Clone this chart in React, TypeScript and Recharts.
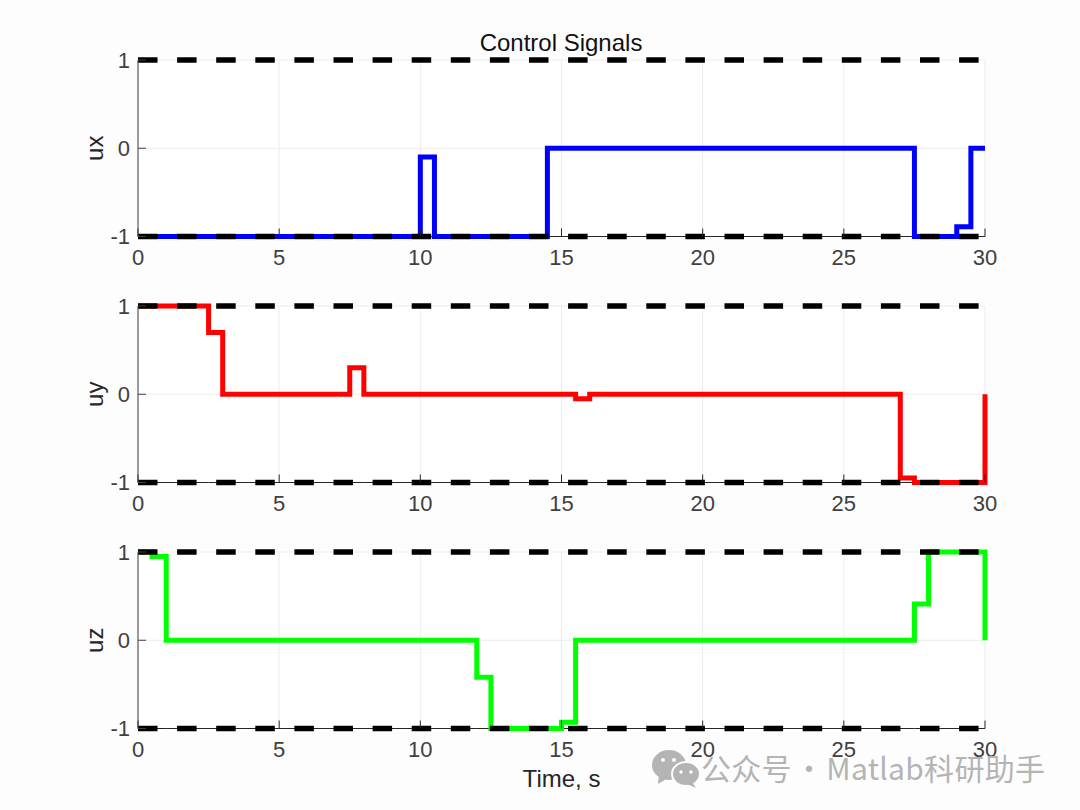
import { CartesianGrid, Line, LineChart, XAxis, YAxis } from 'recharts';

const xTicks = [0, 5, 10, 15, 20, 25, 30];
const yTicks = [-1, 0, 1];

// change points of the piecewise constant signals
const uxTime = [0, 10, 10.5, 14.5, 27.5, 29, 29.5, 30];
const uxValue = [-1, -0.1, -1, 0, -1, -0.89, 0, 0];

const uyTime = [0, 2.5, 3, 7.5, 8, 15.5, 16, 27, 27.5, 30];
const uyValue = [1, 0.7, 0, 0.3, 0, -0.05, 0, -0.95, -1, 0];

const uzTime = [0, 0.5, 1, 12, 12.5, 15, 15.5, 27.5, 28, 30];
const uzValue = [1, 0.95, 0, -0.42, -1, -0.93, 0, 0.41, 1, 0];

const FONT = '"Liberation Sans", Arial, sans-serif';
const PLOT_H = 176.5;

function Panel({ top, name, color, time, value, xlabel }: { top: number; name: string; color: string; time: number[]; value: number[]; xlabel?: string }) {
  const data = time.map((t, i) => ({ t, u: value[i], upper: 1, lower: -1 }));
  return (
    <div style={{ position: 'absolute', left: 0, top: top - 20 }}>
      <LineChart width={1080} height={PLOT_H + 20 + 70} data={data} margin={{ top: 20, right: 95, bottom: 0, left: 0 }}>
        <CartesianGrid stroke="#ececec" fill="#ffffff" verticalValues={xTicks} horizontalValues={yTicks} />
        <XAxis
          dataKey="t"
          type="number"
          domain={[0, 30]}
          ticks={xTicks}
          interval={0}
          height={70}
          axisLine={false}
          tickSize={-8}
          tickMargin={21}
          stroke="#262626"
          tick={{ fill: '#404040', fontSize: 22, fontFamily: FONT }}
          label={xlabel ? { value: xlabel, position: 'insideBottom', offset: 12, fill: '#262626', fontSize: 24, fontFamily: FONT } : undefined}
        />
        <YAxis
          type="number"
          domain={[-1, 1]}
          ticks={yTicks}
          interval={0}
          width={138}
          tickSize={-8}
          tickMargin={16}
          stroke="#404040"
          tick={{ fill: '#404040', fontSize: 22, fontFamily: FONT }}
          label={{ value: name, angle: -90, position: 'insideLeft', offset: 94, textAnchor: 'middle', fill: '#262626', fontSize: 24, fontFamily: FONT }}
        />
        {/* x axis line kept as the first series so the signal and limits sit on top of it */}
        <Line dataKey="lower" type="linear" stroke="#262626" strokeWidth={1} dot={false} isAnimationActive={false} />
        <Line dataKey="u" type="stepAfter" stroke={color} strokeWidth={5} dot={false} isAnimationActive={false} strokeLinejoin="miter" strokeLinecap="butt" />
        <Line dataKey="upper" type="linear" stroke="#000000" strokeWidth={5.5} strokeDasharray="19.5 19.6" dot={false} isAnimationActive={false} />
        <Line dataKey="lower" type="linear" stroke="#000000" strokeWidth={5.5} strokeDasharray="19.5 19.6" dot={false} isAnimationActive={false} />
      </LineChart>
    </div>
  );
}

export default function App() {
  return (
    <div style={{ position: 'fixed', left: 0, top: 0, width: 1080, height: 810, background: '#fdfdfd', overflow: 'hidden' }}>
      <Panel top={60} name="ux" color="#0000ff" time={uxTime} value={uxValue} />
      <Panel top={305.5} name="uy" color="#ff0000" time={uyTime} value={uyValue} />
      <Panel top={551.5} name="uz" color="#00ff00" time={uzTime} value={uzValue} xlabel="Time, s" />
      <div style={{ position: 'absolute', left: 361, width: 400, top: 30, textAlign: 'center', fontFamily: FONT, fontSize: 24, lineHeight: '26px', color: '#111' }}>
        Control Signals
      </div>
      <svg width={54} height={40} style={{ position: 'absolute', left: 650, top: 748 }}>
        <g fill="#b4b4b4">
          <ellipse cx={19} cy={17} rx={17} ry={15} />
          <path d="M9 26 L8 36 L18 30 Z" />
          <ellipse cx={36} cy={26} rx={14} ry={12} fill="#b4b4b4" stroke="#fdfdfd" strokeWidth={2} />
          <path d="M42 34 L46 40 L37 36 Z" />
        </g>
        <g fill="#fdfdfd">
          <circle cx={13} cy={12} r={2} />
          <circle cx={24} cy={12} r={2} />
          <circle cx={31} cy={24} r={1.7} />
          <circle cx={41} cy={24} r={1.7} />
        </g>
      </svg>
      <div style={{ position: 'absolute', left: 701, top: 749, whiteSpace: 'nowrap', fontFamily: '"Noto Sans CJK SC", "Noto Sans", sans-serif', fontSize: 30, letterSpacing: 0.3, wordSpacing: -5, lineHeight: '36px', color: '#b4b4b4' }}>
        公众号 · Matlab科研助手
      </div>
    </div>
  );
}
